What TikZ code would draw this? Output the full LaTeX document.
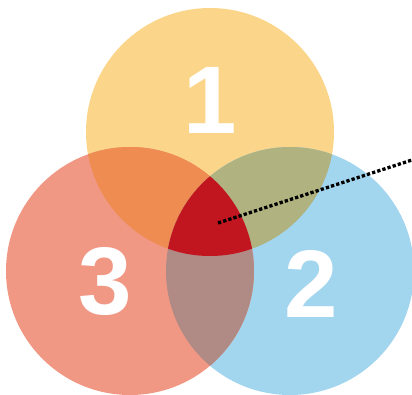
\documentclass[tikz,border=0pt]{standalone}
\usepackage{fontspec}
\setsansfont{Liberation Sans}
\definecolor{setone}{HTML}{FBD68A}
\definecolor{settwo}{HTML}{A2D5EE}
\definecolor{setthree}{HTML}{F19885}
\definecolor{onethree}{HTML}{EE8C52}
\definecolor{onetwo}{HTML}{B0B27F}
\definecolor{twothree}{HTML}{B08A84}
\definecolor{allthree}{HTML}{C1161F}

\tikzset{
  setcircle/.style={circle, inner sep=0pt, minimum size=248pt},
  setnum/.style={text=white, font=\sffamily\bfseries\fontsize{96}{96}\selectfont},
  dotline/.style={line width=3.3pt, dash pattern=on 3.3pt off 2.1pt}
}

\begin{document}
\begin{tikzpicture}[x=1pt,y=-1pt]
\useasboundingbox (0,0) rectangle (412,394);

% the three sets
\node[setcircle, fill=setone] (c1) at (210,132) {};
\node[setcircle, fill=settwo] (c2) at (290,271) {};
\node[setcircle, fill=setthree] (c3) at (130,271) {};

% pairwise overlaps
\begin{scope}
\clip (c1.center) circle (124pt);
\fill[onethree] (c3.center) circle (124pt);
\fill[onetwo] (c2.center) circle (124pt);
\end{scope}
\begin{scope}
\clip (c2.center) circle (124pt);
\fill[twothree] (c3.center) circle (124pt);
\end{scope}

% common part
\begin{scope}
\clip (c1.center) circle (124pt);
\clip (c2.center) circle (124pt);
\fill[allthree] (c3.center) circle (124pt);
\end{scope}

\node[setnum] (n1) at (210,100) {1};
\node[setnum] (n2) at (311,284) {2};
\node[setnum] (n3) at (105,282) {3};

\coordinate (core) at (218,223);
\coordinate (tip) at (412,160);
\draw[dotline] (core) -- (tip);
\end{tikzpicture}
\end{document}
